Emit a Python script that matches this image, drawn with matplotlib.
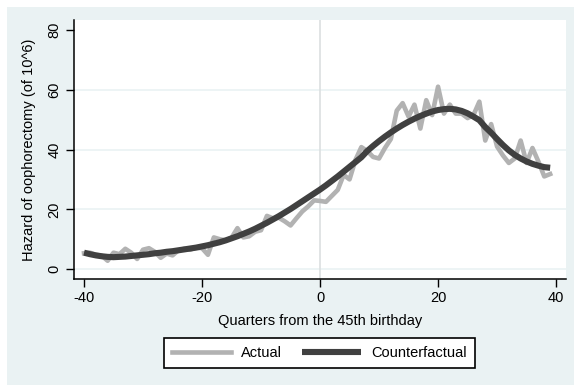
import matplotlib
matplotlib.use("Agg")
import matplotlib.pyplot as plt
from matplotlib.patches import Rectangle

# quarters relative to the 45th birthday
quarters = list(range(-40, 40))

# observed hazard (per 10^6)
actual = [
    5.3, 5.5, 4.8, 4.5, 2.8, 5.5, 5.0, 6.8, 5.5, 3.4,
    6.5, 7.0, 5.8, 3.8, 5.2, 4.6, 6.3, 6.8, 6.5, 7.2,
    7.0, 4.8, 10.6, 10.0, 9.6, 10.5, 13.7, 10.6, 11.0, 12.5,
    13.0, 17.8, 17.0, 17.2, 16.0, 14.6, 17.0, 19.3, 21.0, 23.0,
    22.8, 22.5, 24.5, 26.5, 31.5, 30.0, 36.5, 40.8, 39.5, 37.5,
    37.0, 40.5, 43.5, 53.0, 55.5, 51.0, 55.0, 47.0, 56.5, 51.5,
    61.0, 52.0, 55.0, 52.0, 52.0, 50.5, 51.5, 56.0, 43.0, 48.5,
    41.0, 38.0, 35.5, 37.0, 43.0, 35.5, 40.5, 36.0, 31.0, 31.8,
]

# fitted counterfactual hazard
counterfactual = [
    5.5, 5.0, 4.6, 4.3, 4.1, 4.0, 4.1, 4.2, 4.4, 4.6,
    4.8, 5.0, 5.3, 5.5, 5.8, 6.0, 6.3, 6.6, 6.9, 7.2,
    7.6, 8.0, 8.5, 9.0, 9.6, 10.3, 11.0, 11.8, 12.6, 13.5,
    14.5, 15.5, 16.6, 17.7, 18.9, 20.1, 21.4, 22.7, 24.0, 25.3,
    26.6, 28.0, 29.5, 31.0, 32.6, 34.2, 35.8, 37.4, 39.5, 41.2,
    42.8, 44.3, 45.7, 47.0, 48.2, 49.3, 50.3, 51.2, 52.0, 52.7,
    53.2, 53.5, 53.6, 53.4, 52.9, 52.1, 51.0, 49.8, 47.5, 45.6,
    43.5, 41.5, 39.7, 38.2, 37.0, 36.0, 35.2, 34.6, 34.1, 33.9,
]

xticks = [-40, -20, 0, 20, 40]
yticks = [0, 20, 40, 60, 80]

BG = "#eaf2f3"
plt.rcParams["font.family"] = ["Liberation Sans", "DejaVu Sans"]
FS = 10.5

fig = plt.figure(figsize=(5.74, 3.85), dpi=100, facecolor="white")
# light graph region behind the white plot region
fig.patches.append(Rectangle((6.5 / 574, 0), 1 - 6.5 / 574, 1 - 6.5 / 385,
                             transform=fig.transFigure, facecolor=BG,
                             edgecolor="none", zorder=-5))

ax = fig.add_axes([74 / 574, 1 - 279 / 385, (565.5 - 74) / 574, (279 - 20) / 385])
ax.set_zorder(1)
ax.set_facecolor("white")

for y in yticks[:-1]:
    ax.axhline(y, color=BG, lw=1.2, zorder=1)
ax.axvline(0, color="#dcdfe0", lw=1.2, zorder=1)

ax.plot(quarters, actual, color="#b2b2b2", lw=3.3, solid_joinstyle="round",
        label="Actual", zorder=2)
ax.plot(quarters, counterfactual, color="#404040", lw=4.4,
        solid_capstyle="butt", label="Counterfactual", zorder=3)

ax.set_xlim(-41.7, 41.6)
ax.set_ylim(-3.3, 83.3)
ax.set_xticks(xticks)
ax.set_yticks(yticks)
ax.set_xticklabels([str(t) for t in xticks], fontsize=FS)
ax.set_yticklabels([str(t) for t in yticks], fontsize=FS, rotation=90, va="center")
ax.tick_params(direction="out", length=6, width=1, color="black", pad=3)

for side in ["top", "right"]:
    ax.spines[side].set_visible(False)
for side in ["left", "bottom"]:
    ax.spines[side].set_linewidth(1.1)
    ax.spines[side].set_color("black")

ax.set_xlabel("Quarters from the 45th birthday", fontsize=FS, labelpad=6)
ax.set_ylabel("Hazard of oophorectomy (of 10^6)", fontsize=FS, labelpad=8)

leg = fig.legend(loc="center", bbox_to_anchor=(319.5 / 574, 1 - 353 / 385),
                 ncol=2, fontsize=FS, handlelength=4.0, columnspacing=1.4,
                 handletextpad=0.7, fancybox=False, framealpha=1,
                 edgecolor="black", borderpad=0.55)
leg.get_frame().set_linewidth(1.2)

fig.savefig("out.png", dpi=100, facecolor="white")
